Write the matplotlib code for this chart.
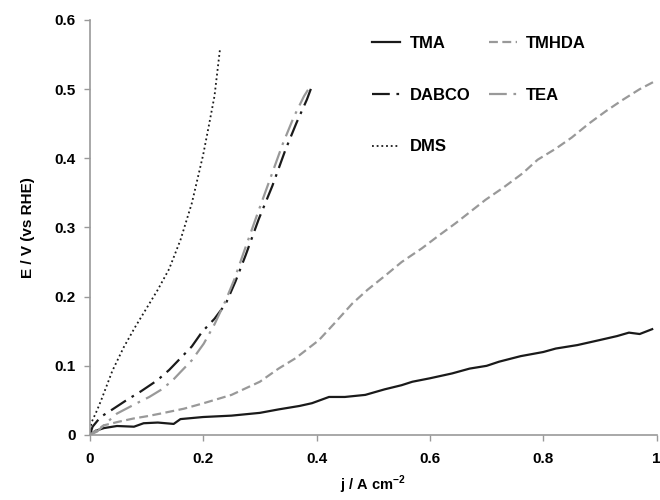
import matplotlib
matplotlib.use("Agg")
import matplotlib.pyplot as plt

plt.rcParams["font.family"] = ["Liberation Sans", "DejaVu Sans"]
plt.rcParams["font.weight"] = "bold"
plt.rcParams["mathtext.fontset"] = "custom"
plt.rcParams["mathtext.rm"] = "Liberation Sans:bold"
plt.rcParams["mathtext.bf"] = "Liberation Sans:bold"

# current density j (A cm-2) and potential E (V vs RHE)
tma_j = [0, 0.01, 0.025, 0.048, 0.078, 0.095, 0.12, 0.148, 0.16, 0.2, 0.25, 0.3,
         0.333, 0.37, 0.392, 0.422, 0.45, 0.486, 0.52, 0.55, 0.569, 0.6, 0.639,
         0.67, 0.7, 0.722, 0.76, 0.8, 0.822, 0.86, 0.898, 0.93, 0.951, 0.97, 0.992]
tma_e = [0, 0.006, 0.01, 0.013, 0.012, 0.017, 0.018, 0.016, 0.023, 0.026, 0.028,
         0.032, 0.037, 0.042, 0.046, 0.055, 0.055, 0.058, 0.066, 0.072, 0.077,
         0.082, 0.089, 0.096, 0.1, 0.106, 0.114, 0.12, 0.125, 0.13, 0.137, 0.143,
         0.148, 0.146, 0.153]

tmhda_j = [0, 0.01, 0.025, 0.05, 0.078, 0.1, 0.125, 0.166, 0.201, 0.25, 0.3, 0.333,
           0.363, 0.404, 0.43, 0.463, 0.49, 0.522, 0.55, 0.586, 0.615, 0.645, 0.67,
           0.698, 0.73, 0.763, 0.79, 0.822, 0.85, 0.88, 0.91, 0.939, 0.97, 0.998]
tmhda_e = [0, 0.006, 0.014, 0.019, 0.024, 0.027, 0.031, 0.038, 0.046, 0.058, 0.077,
           0.096, 0.111, 0.137, 0.16, 0.19, 0.21, 0.231, 0.25, 0.27, 0.288, 0.306,
           0.322, 0.34, 0.358, 0.378, 0.398, 0.414, 0.43, 0.45, 0.468, 0.484, 0.5,
           0.512]

dabco_j = [0, 0.005, 0.019, 0.04, 0.066, 0.09, 0.119, 0.14, 0.16, 0.18, 0.198, 0.22,
           0.24, 0.257, 0.275, 0.298, 0.322, 0.345, 0.365, 0.383, 0.393]
dabco_e = [0, 0.012, 0.026, 0.037, 0.051, 0.063, 0.079, 0.094, 0.111, 0.128, 0.149,
           0.168, 0.19, 0.222, 0.26, 0.312, 0.36, 0.412, 0.452, 0.485, 0.507]

tea_j = [0, 0.013, 0.03, 0.048, 0.083, 0.105, 0.125, 0.145, 0.16, 0.18, 0.201, 0.22,
         0.24, 0.255, 0.272, 0.295, 0.318, 0.34, 0.36, 0.378, 0.388]
tea_e = [0, 0.005, 0.018, 0.031, 0.046, 0.055, 0.065, 0.078, 0.091, 0.108, 0.132,
         0.16, 0.195, 0.225, 0.265, 0.318, 0.37, 0.42, 0.46, 0.49, 0.503]

dms_j = [0, 0.003, 0.013, 0.02, 0.04, 0.06, 0.08, 0.1, 0.12, 0.14, 0.16, 0.18,
         0.2, 0.21, 0.22, 0.23]
dms_e = [0, 0.018, 0.036, 0.05, 0.093, 0.127, 0.156, 0.183, 0.21, 0.24, 0.282,
         0.335, 0.405, 0.447, 0.49, 0.56]

x_ticks = [0, 0.2, 0.4, 0.6, 0.8, 1]
x_labels = ["0", "0.2", "0.4", "0.6", "0.8", "1"]
y_ticks = [0, 0.1, 0.2, 0.3, 0.4, 0.5, 0.6]
y_labels = ["0", "0.1", "0.2", "0.3", "0.4", "0.5", "0.6"]

black = "#1a1a1a"
grey = "#999999"

fig = plt.figure(figsize=(6.6, 5), dpi=100)
ax = fig.add_axes([0.136, 0.13, 0.859, 0.83])

ax.plot(tma_j, tma_e, color=black, lw=1.6, label="TMA")
ax.plot(dabco_j, dabco_e, color=black, lw=1.6, dashes=(8, 3, 1.2, 3), label="DABCO")
ax.plot(dms_j, dms_e, color=black, lw=1.3, dashes=(1, 1.6), label="DMS")
ax.plot(tmhda_j, tmhda_e, color=grey, lw=1.6, dashes=(4, 2), label="TMHDA")
ax.plot(tea_j, tea_e, color=grey, lw=1.6, dashes=(8, 3, 1.2, 3), label="TEA")

ax.set_xlim(0, 1)
ax.set_ylim(0, 0.6)
ax.set_xticks(x_ticks)
ax.set_xticklabels(x_labels)
ax.set_yticks(y_ticks)
ax.set_yticklabels(y_labels)
ax.tick_params(labelsize=11, length=4, width=1, color=grey, pad=6)
ax.tick_params(axis="x", pad=8)

for side in ["top", "right"]:
    ax.spines[side].set_visible(False)
for side in ["left", "bottom"]:
    ax.spines[side].set_color(grey)
    ax.spines[side].set_linewidth(1.2)

ax.set_xlabel("j / A cm$^{-2}$", fontsize=10.5, fontweight="bold", labelpad=6)
ax.set_ylabel("E / V (vs RHE)", fontsize=11, fontweight="bold", labelpad=14)

ax.legend(loc="upper left", bbox_to_anchor=(0.541, 0.958), bbox_transform=fig.transFigure,
          ncol=2, frameon=False, fontsize=12, handlelength=1.7, labelspacing=2.2,
          columnspacing=1.1, handletextpad=0.55)

plt.savefig("out.png", dpi=100)
